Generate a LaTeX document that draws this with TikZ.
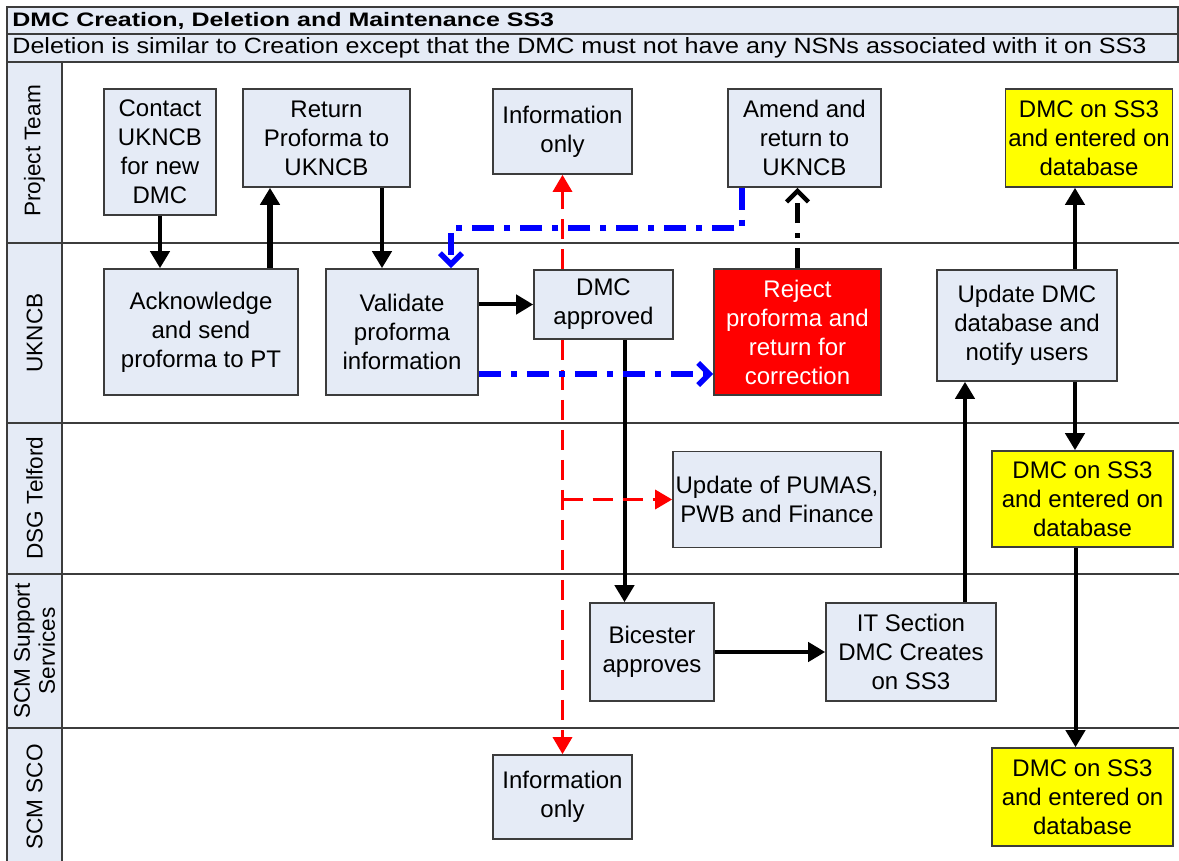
\documentclass[tikz,border=0pt]{standalone}
\usepackage{fontspec}
\usepackage{graphicx}
\setmainfont{Liberation Sans}
\usetikzlibrary{arrows.meta, positioning, calc}
\definecolor{boxfill}{RGB}{229,235,246}
\definecolor{boxline}{RGB}{60,60,60}
\definecolor{doneyellow}{RGB}{255,255,0}
\definecolor{rejectred}{RGB}{255,0,0}
\definecolor{reworkblue}{RGB}{0,0,255}

\begin{document}
\begin{tikzpicture}[
		x=0.5pt, y=-0.5pt,
		frame/.style={draw=boxline, line width=1pt},
		laneline/.style={draw=boxline, line width=0.8pt},
		lanelabel/.style={rotate=90, align=center, inner sep=0pt, font=\fontsize{11.3}{12.5}\selectfont},
		proc/.style={draw=boxline, fill=boxfill, line width=0.8pt, align=center, inner sep=1pt, font=\fontsize{12}{14.5}\selectfont},
		done/.style={proc, fill=doneyellow},
		rejectbox/.style={proc, fill=rejectred, text=white},
		flow/.style={line width=2pt, -{Triangle[length=8.5pt,width=9.5pt]}},
		inform/.style={draw=rejectred, line width=1.6pt, dash pattern=on 10pt off 5pt, -{Triangle[length=8.5pt,width=9.5pt]}},
		rework/.style={draw=reworkblue, line width=2.8pt, dash pattern=on 11pt off 5pt on 3pt off 5pt, -{Straight Barb[length=5.5pt,width=11pt]}},
		resubmit/.style={draw=black, line width=2.2pt, dash pattern=on 10pt off 5pt on 2.5pt off 5pt, -{Straight Barb[length=5.5pt,width=11pt]}}
	]
	\useasboundingbox (0,0) rectangle (1179,861);
	% swimlane frame
	\fill[boxfill] (7,62) rectangle (62,861);
	\draw[frame, fill=boxfill] (7,7) rectangle (1178,34);
	\draw[frame, fill=boxfill] (7,34) rectangle (1178,62);
	\draw[frame] (7,62) -- (7,861) (62,62) -- (62,861);
	\foreach \y in {243,423,574,728}
		\draw[laneline] (7,\y) -- (1179,\y);
	\node[anchor=west, inner sep=0pt, font=\bfseries\fontsize{12.5}{14}\selectfont] (title) at (12,20.5) {\scalebox{1}[0.78]{DMC Creation, Deletion and Maintenance SS3}};
	\node[anchor=west, inner sep=0pt, font=\fontsize{12.55}{14}\selectfont] (subtitle) at (12,48) {\scalebox{1}[0.88]{Deletion is similar to Creation except that the DMC must not have any NSNs associated with it on SS3}};
	\node[lanelabel] (lblpt) at (34.5,151) {Project Team};
	\node[lanelabel] (lbluk) at (34.5,333) {UKNCB};
	\node[lanelabel] (lbldsg) at (34.5,498) {DSG Telford};
	\node[lanelabel] (lblscm) at (34.5,651) {SCM Support\\Services};
	\node[lanelabel] (lblsco) at (34.5,797) {SCM SCO};

	% Project Team
	\node[proc, minimum width=56pt, minimum height=63pt] (contact) at (160,152) {Contact\\UKNCB\\for new\\DMC};
	\node[proc, minimum width=83.5pt, minimum height=49pt] (retpro) at (326.5,138) {Return\\Proforma to\\UKNCB};
	\node[proc, minimum width=69.5pt, minimum height=42.5pt] (info1) at (562.5,131.5) {Information\\only};
	\node[proc, minimum width=76.5pt, minimum height=49pt] (amend) at (804.5,138) {Amend and\\return to\\UKNCB};
	\node[done, minimum width=83.5pt, minimum height=49pt] (dbpt) at (1089,138) {DMC on SS3\\and entered on\\database};

	% UKNCB
	\node[proc, minimum width=97pt, minimum height=63pt] (ack) at (201,332) {Acknowledge\\and send\\proforma to PT};
	\node[proc, minimum width=76pt, minimum height=63pt] (valid) at (402,332) {Validate\\proforma\\information};
	\node[proc, minimum width=69.5pt, minimum height=34.5pt] (approved) at (603.5,304.5) {DMC\\approved};
	\node[rejectbox, minimum width=83.5pt, minimum height=63pt] (reject) at (797.5,332) {Reject\\proforma and\\return for\\correction};
	\node[proc, minimum width=90pt, minimum height=55.5pt] (upddb) at (1027,325.5) {Update DMC\\database and\\notify users};

	% DSG Telford
	\node[proc, minimum width=104pt, minimum height=48pt] (pumas) at (777,499.5) {Update of PUMAS,\\PWB and Finance};
	\node[done, minimum width=90.5pt, minimum height=48pt] (dbtel) at (1082.5,499) {DMC on SS3\\and entered on\\database};

	% SCM Support Services
	\node[proc, minimum width=62pt, minimum height=49pt] (bicester) at (652,652) {Bicester\\approves};
	\node[proc, minimum width=85pt, minimum height=49pt] (itsec) at (911,652) {IT Section\\DMC Creates\\on SS3};

	% SCM SCO
	\node[proc, minimum width=69.5pt, minimum height=42pt] (info2) at (562.5,797) {Information\\only};
	\node[done, minimum width=90.5pt, minimum height=49pt] (dbsco) at (1082.5,797) {DMC on SS3\\and entered on\\database};

	% main flow
	\draw[flow] (contact.south) -- (contact.south |- ack.north);
	\draw[flow, line width=2.6pt] ([xshift=34.5pt]ack.north) -- ([xshift=34.5pt]ack.north |- retpro.south);
	\draw[flow] ([xshift=27.75pt]retpro.south) -- ([xshift=27.75pt]retpro.south |- valid.north);
	\draw[flow] (valid.east |- approved.west) -- (approved.west);
	\draw[flow] ([xshift=10.5pt]approved.south) -- ([xshift=10.5pt]approved.south |- bicester.north);
	\draw[flow] (bicester.east) -- (itsec.west);
	\draw[flow] ([xshift=27pt]itsec.north) -- ([xshift=27pt]itsec.north |- upddb.south);
	\draw[flow] ([xshift=24pt]upddb.north) -- ([xshift=24pt]upddb.north |- dbpt.south);
	\draw[flow] ([xshift=24pt]upddb.south) -- ([xshift=24pt]upddb.south |- dbtel.north);
	\draw[flow] ([xshift=-3.5pt]dbtel.south) -- ([xshift=-3.5pt]dbtel.south |- dbsco.north);

	% information only
	\draw[inform] ([xshift=-20.5pt]approved.north) -- ([xshift=-20.5pt]approved.north |- info1.south);
	\draw[inform] ([xshift=-20.5pt]approved.south) -- ([xshift=-20.5pt]approved.south |- info2.north);
	\draw[inform] ([xshift=-20.5pt]approved.south |- pumas.west) -- (pumas.west);

	% rejection loop
	\draw[rework] ([yshift=-21pt]valid.east) -- ([yshift=-21pt]valid.east -| reject.west);
	\draw[resubmit] (reject.north) -- (reject.north |- amend.south);
	\draw[rework] ([xshift=-31.25pt]amend.south) |- ([xshift=24.5pt,yshift=20pt]valid.north) -- ([xshift=24.5pt]valid.north);
\end{tikzpicture}
\end{document}
